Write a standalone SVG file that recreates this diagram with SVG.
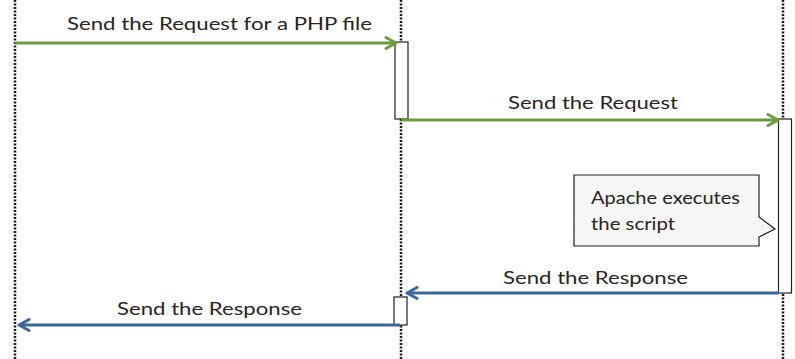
<svg xmlns="http://www.w3.org/2000/svg" width="795" height="359" viewBox="0 0 795 359">
  <style>
    .life { stroke: #1a1a1a; stroke-width: 2.5; stroke-dasharray: 2 1.5; fill: none; }
    .act { fill: #fff; stroke: #222; stroke-width: 1.2; }
    .req { stroke: #6e9a3c; stroke-width: 3; fill: none; }
    .res { stroke: #3c679d; stroke-width: 3; fill: none; }
    .lbl { font-family: Lato, "Open Sans", sans-serif; font-size: 18px; fill: #262626; }
    .note { font-family: Lato, "Open Sans", sans-serif; font-size: 16.5px; fill: #262626; }
  </style>
  <defs>
    <marker id="headReq" viewBox="0 0 14 14" refX="12" refY="7" markerWidth="14" markerHeight="14" markerUnits="userSpaceOnUse" orient="auto">
      <path d="M2 1.5 L12 7 L2 12.5" fill="none" stroke="#6e9a3c" stroke-width="3" stroke-linecap="round" stroke-linejoin="round"/>
    </marker>
    <marker id="headRes" viewBox="0 0 14 14" refX="12" refY="7" markerWidth="14" markerHeight="14" markerUnits="userSpaceOnUse" orient="auto">
      <path d="M2 1.5 L12 7 L2 12.5" fill="none" stroke="#3c679d" stroke-width="3" stroke-linecap="round" stroke-linejoin="round"/>
    </marker>
  </defs>
  <rect width="795" height="359" fill="#fff"/>

  <!-- lifelines -->
  <g id="lifelines">
    <line class="life" x1="15" y1="0" x2="15" y2="359"/>
    <line class="life" x1="401" y1="0" x2="401" y2="359"/>
    <line class="life" x1="783" y1="0" x2="783" y2="359"/>
  </g>

  <!-- activation bars -->
  <g id="server-activation">
    <rect class="act" x="395" y="42" width="13" height="77"/>
  </g>
  <g id="apache-activation">
    <rect class="act" x="778.5" y="119" width="13" height="174"/>
  </g>
  <g id="server-return">
    <rect class="act" x="394" y="297" width="13" height="28"/>
  </g>

  <!-- note -->
  <g id="note">
    <path d="M574 175 H759 V217 L775 229 L759 237 V246 H574 Z" fill="#f6f6f4" stroke="#222" stroke-width="1.2"/>
    <text class="note" x="591" y="204" textLength="149" lengthAdjust="spacingAndGlyphs">Apache executes</text>
    <text class="note" x="591" y="230" textLength="84" lengthAdjust="spacingAndGlyphs">the script</text>
  </g>

  <!-- messages -->
  <g id="connectors">
    <line class="req" x1="15" y1="43" x2="396" y2="43" marker-end="url(#headReq)"/>
    <line class="req" x1="401" y1="120" x2="778" y2="120" marker-end="url(#headReq)"/>
    <line class="res" x1="779" y1="293" x2="407" y2="293" marker-end="url(#headRes)"/>
    <line class="res" x1="400" y1="325" x2="19" y2="325" marker-end="url(#headRes)"/>
  </g>

  <g id="labels">
    <text class="lbl" x="67" y="30" textLength="305" lengthAdjust="spacingAndGlyphs">Send the Request for a PHP file</text>
    <text class="lbl" x="508" y="109" textLength="170" lengthAdjust="spacingAndGlyphs">Send the Request</text>
    <text class="lbl" x="503" y="284" textLength="185" lengthAdjust="spacingAndGlyphs">Send the Response</text>
    <text class="lbl" x="117" y="315" textLength="185" lengthAdjust="spacingAndGlyphs">Send the Response</text>
  </g>
</svg>
